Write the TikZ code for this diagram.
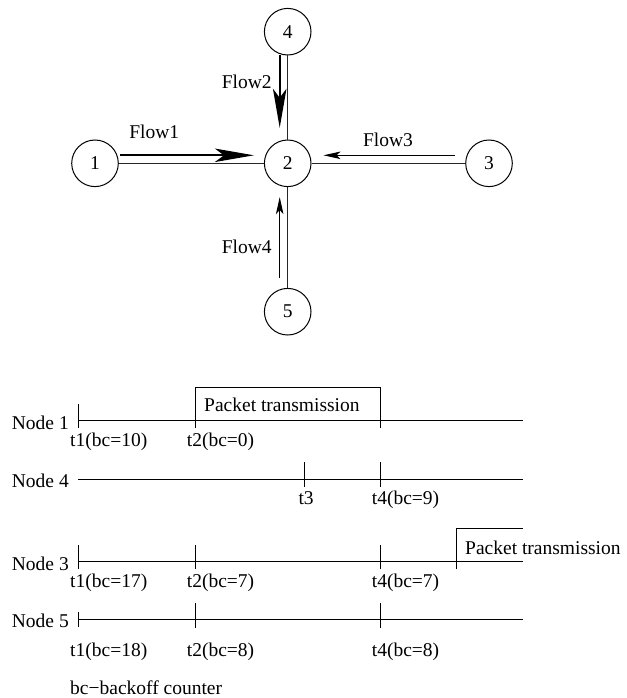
\documentclass[tikz,border=0pt]{standalone}
\usepackage{fontspec}
\setmainfont{Liberation Serif}
\usetikzlibrary{arrows.meta,calc}
\tikzset{
  station/.style={circle,draw,line width=1pt,minimum size=46.6pt,inner sep=0pt,font=\fontsize{19.5pt}{23pt}\selectfont},
  flowlbl/.style={font=\fontsize{19.5pt}{23pt}\selectfont,inner sep=0pt},
  link/.style={line width=0.9pt,black!85},
  bigflow/.style={line width=1.8pt,-{Stealth[length=39pt,width=13.5pt,inset=9pt]}},
  smallflow/.style={line width=1pt,-{Stealth[length=17pt,width=7.5pt,inset=4pt]}},
  tline/.style={line width=1pt},
  tlbl/.style={font=\fontsize{19.5pt}{23pt}\selectfont,inner sep=0pt,anchor=base west},
}
\begin{document}
\begin{tikzpicture}[x=1pt,y=-1pt]
\useasboundingbox (0,0) rectangle (626,698);
% ---------- top graph ----------
\node[station] (n4) at (287.7,31.7) {4};
\node[station] (n2) at (287.7,163.3) {2};
\node[station] (n1) at (95,163.3) {1};
\node[station] (n3) at (489,163.3) {3};
\node[station] (n5) at (287.7,311.7) {5};
\draw[link] (n1) -- (n2);
\draw[link] (n3) -- (n2);
\draw[link] (n4) -- (n2);
\draw[link] (n5) -- (n2);
\draw[bigflow] ($(n1.east)+(1.5,-8)$) -- ($(n2.west)+(-10,-8)$);
\draw[bigflow] ($(n4.south)+(-8,0)$) -- ($(n2.north)+(-8,-11.7)$);
\draw[smallflow] ($(n3.west)+(-10,-8)$) -- ($(n2.east)+(12,-8)$);
\draw[smallflow] ($(n5.north)+(-8,-10)$) -- ($(n2.south)+(-8,10)$);
\node[flowlbl] (f1) at (154.3,131.7) {Flow1};
\node[flowlbl] (f2) at (246.7,81.7) {Flow2};
\node[flowlbl] (f3) at (388,140) {Flow3};
\node[flowlbl] (f4) at (246.7,246.7) {Flow4};
% ---------- timelines ----------
% Node 1
\draw[tline] (78.3,420.7) -- (523,420.7);
\draw[tline] (78.3,404) -- (78.3,428.3);
\draw[tline] (195.7,428) -- (195.7,387.3) -- (380,387.3) -- (380,428.3);
\node[tlbl] (l1) at (11.7,429) {Node 1};
\node[tlbl] (p1) at (204,411.7) {Packet transmission};
\node[tlbl] (a1) at (70,446) {t1(bc=10)};
\node[tlbl] (b1) at (186.7,446) {t2(bc=0)};
% Node 4
\draw[tline] (78.3,479) -- (523,479);
\draw[tline] (304.3,462.3) -- (304.3,486.7);
\draw[tline] (380,462.3) -- (380,486.7);
\node[tlbl] (l4) at (11.7,487.7) {Node 4};
\node[tlbl] (c4) at (298.3,504.3) {t3};
\node[tlbl] (d4) at (371.7,504.3) {t4(bc=9)};
% Node 3
\draw[tline] (78.3,561.7) -- (523,561.7);
\draw[tline] (78.3,545) -- (78.3,569.3);
\draw[tline] (195.7,545) -- (195.7,569.3);
\draw[tline] (380,545) -- (380,569.3);
\draw[tline] (456,569.3) -- (456,528.3) -- (523,528.3);
\node[tlbl] (l3) at (11.7,570) {Node 3};
\node[tlbl] (p3) at (465,554.3) {Packet transmission};
\node[tlbl] (a3) at (70,587.2) {t1(bc=17)};
\node[tlbl] (b3) at (186.7,587.2) {t2(bc=7)};
\node[tlbl] (d3) at (371.7,587.2) {t4(bc=7)};
% Node 5
\draw[tline] (78.3,619.3) -- (523,619.3);
\draw[tline] (78.3,611.7) -- (78.3,626.7);
\draw[tline] (195.7,603.3) -- (195.7,628.3);
\draw[tline] (380,603.3) -- (380,628.3);
\node[tlbl] (l5) at (11.7,627.7) {Node 5};
\node[tlbl] (a5) at (70,656) {t1(bc=18)};
\node[tlbl] (b5) at (186.7,656) {t2(bc=8)};
\node[tlbl] (d5) at (371.7,656) {t4(bc=8)};
\node[tlbl] (note) at (70,694.3) {bc−backoff counter};
\end{tikzpicture}
\end{document}
